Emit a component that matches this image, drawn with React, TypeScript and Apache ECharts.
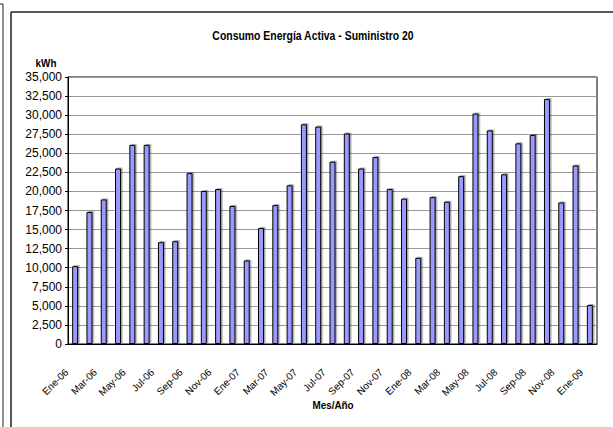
import React, { useEffect, useRef } from "react";
import * as echarts from "echarts";

const categories = [
  "Ene-06", "Feb-06", "Mar-06", "Abr-06", "May-06", "Jun-06", "Jul-06", "Ago-06", "Sep-06", "Oct-06", "Nov-06", "Dic-06",
  "Ene-07", "Feb-07", "Mar-07", "Abr-07", "May-07", "Jun-07", "Jul-07", "Ago-07", "Sep-07", "Oct-07", "Nov-07", "Dic-07",
  "Ene-08", "Feb-08", "Mar-08", "Abr-08", "May-08", "Jun-08", "Jul-08", "Ago-08", "Sep-08", "Oct-08", "Nov-08", "Dic-08",
  "Ene-09",
];

const consumo = [
  10200, 17300, 18950, 23000, 26100, 26100, 13350, 13480, 22400, 20050, 20300, 18100,
  10950, 15200, 18200, 20800, 28800, 28500, 23900, 27600, 23000, 24500, 20300, 19050,
  11300, 19250, 18650, 22000, 30200, 28000, 22250, 26300, 27400, 32100, 18550, 23400,
  5100,
];

const titleText = "Consumo Energía Activa - Suministro 20";
const yName = "kWh";
const xName = "Mes/Año";

const FONT = "'Liberation Sans Narrow', 'Arial Narrow', 'Liberation Sans', Arial, sans-serif";

export default function App() {
  const ref = useRef<HTMLDivElement>(null);
  useEffect(() => {
    if (!ref.current) return;
    const chart = echarts.init(ref.current, undefined, { renderer: "svg" });
    chart.setOption({
      animation: false,
      backgroundColor: "#ffffff",
      graphic: [
        { type: "line", shape: { x1: 11, y1: 12, x2: 613, y2: 12 }, style: { stroke: "#222", lineWidth: 1.5 } },
        { type: "line", shape: { x1: 11, y1: 12, x2: 11, y2: 427 }, style: { stroke: "#222", lineWidth: 1.5 } },
        { type: "line", shape: { x1: 3, y1: 4, x2: 3, y2: 427 }, style: { stroke: "#222", lineWidth: 1 } },
        { type: "line", shape: { x1: 0, y1: 4, x2: 3, y2: 4 }, style: { stroke: "#222", lineWidth: 1 } },
        {
          type: "text", x: 313, y: 36, scaleX: 0.87,
          style: { text: titleText, fontFamily: FONT, fontSize: 12, fontWeight: "bold", fill: "#000", textAlign: "center", textVerticalAlign: "middle" },
        },
        {
          type: "text", x: 46, y: 63, scaleX: 0.9,
          style: { text: yName, fontFamily: FONT, fontSize: 11, fontWeight: "bold", fill: "#000", textAlign: "center", textVerticalAlign: "middle" },
        },
        {
          type: "text", x: 333, y: 405, scaleX: 0.9,
          style: { text: xName, fontFamily: FONT, fontSize: 11, fontWeight: "bold", fill: "#000", textAlign: "center", textVerticalAlign: "middle" },
        },
      ],
      grid: {
        left: 68, top: 77, right: 16, bottom: 83,
        show: true, borderColor: "#000", borderWidth: 1, backgroundColor: "transparent",
      },
      xAxis: {
        type: "category",
        data: categories,
        boundaryGap: true,
        axisLine: { lineStyle: { color: "#000", width: 1 } },
        axisTick: { interval: 1, length: 4, lineStyle: { color: "#000" } },
        axisLabel: {
          interval: 1, rotate: 45, margin: 18, padding: [0, 12, 0, 0],
          fontFamily: FONT, fontSize: 10, color: "#000",
        },
      },
      yAxis: {
        type: "value",
        min: 0, max: 35000, interval: 2500,
        axisLine: { show: true, lineStyle: { color: "#000", width: 1 } },
        axisTick: { show: true, length: 3, lineStyle: { color: "#000" } },
        axisLabel: {
          margin: 6, fontFamily: FONT, fontSize: 12, color: "#000",
          formatter: (v: number) => v.toLocaleString("en-US"),
        },
        splitLine: { lineStyle: { color: "#999", width: 1 } },
      },
      series: [
        {
          type: "bar",
          data: consumo,
          barWidth: 6,
          itemStyle: {
            color: "#9999ff", borderColor: "#000", borderWidth: 1,
            shadowColor: "rgba(0,0,0,0.35)", shadowOffsetX: 1.5, shadowOffsetY: -1, shadowBlur: 0,
          },
        },
      ],
    });
    return () => chart.dispose();
  }, []);
  return <div ref={ref} style={{ position: "fixed", left: 0, top: 0, width: 613, height: 427 }} />;
}
